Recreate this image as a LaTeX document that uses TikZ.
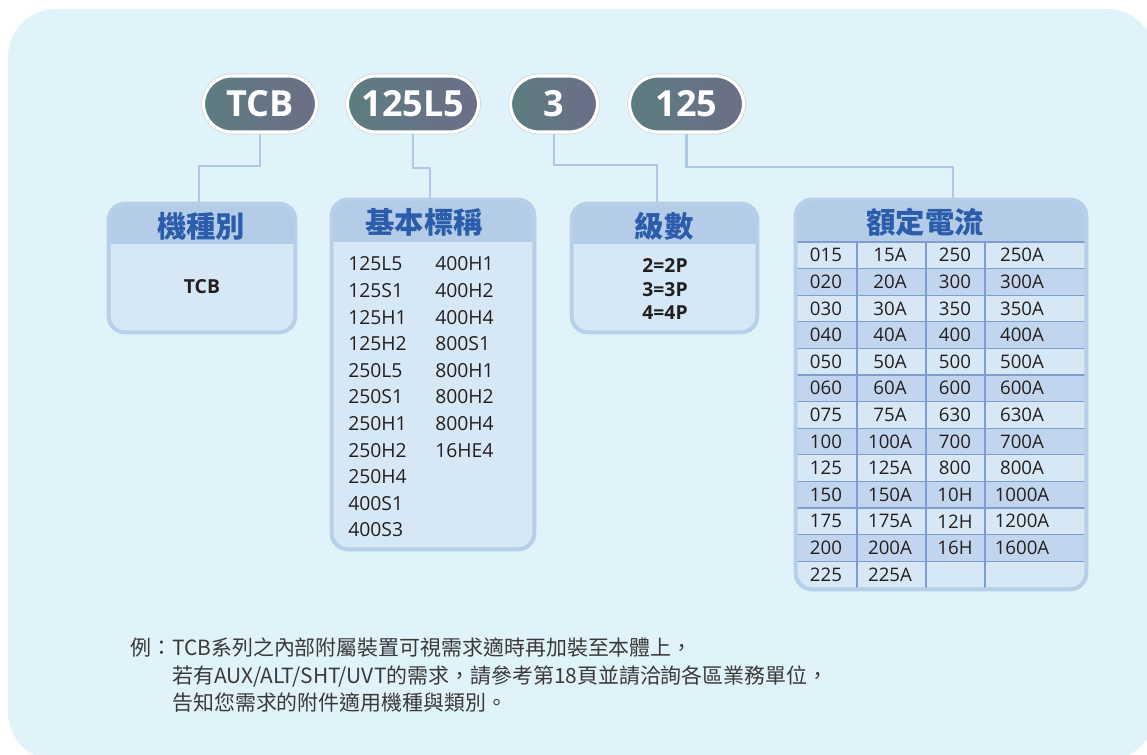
\documentclass[tikz,border=0pt]{standalone}
\usepackage{fontspec}
\setmainfont{Open Sans}
\newfontfamily\cjk{Noto Sans CJK TC}
\usetikzlibrary{calc}
\definecolor{bg}{HTML}{E0F2FA}
\definecolor{conncol}{HTML}{B0C8E8}
\definecolor{bordcol}{HTML}{B8CFEA}
\definecolor{hdrcol}{HTML}{B4CCE7}
\definecolor{bodycol}{HTML}{D6E8F6}
\definecolor{rowdark}{HTML}{C1D6EE}
\definecolor{gridcol}{HTML}{7E9DD5}
\definecolor{hdrtext}{HTML}{2C5DAA}
\definecolor{txt}{HTML}{231F20}
\definecolor{note}{HTML}{3A3A3A}
\definecolor{pillL}{HTML}{5C7D80}
\definecolor{pillM}{HTML}{7A7D8F}
\definecolor{pillR}{HTML}{6C6E87}
\begin{document}
\begin{tikzpicture}[x=0.75pt,y=-0.75pt,
  pill/.style={rectangle, rounded corners=21pt, minimum height=42pt, inner sep=0pt,
    left color=pillL, middle color=pillM, right color=pillR,
    draw=white, line width=2.4pt, preaction={draw=black!18, line width=3.4pt},
    text=white, font=\bfseries\fontsize{27}{30}\selectfont},
  boxbody/.style={rectangle, inner sep=0pt, fill=bodycol, rounded corners=12pt},
  bord/.style={draw=bordcol, line width=3pt, rounded corners=12pt},
  conn/.style={draw=conncol, line width=2.2pt},
  hdrlabel/.style={inner sep=0pt, text=hdrtext, font=\cjk\bfseries\fontsize{22}{24}\selectfont},
  item/.style={inner sep=0pt, anchor=west, text=txt, font=\fontsize{14.5}{16}\selectfont},
  bolditem/.style={inner sep=0pt, text=txt, font=\bfseries\fontsize{14.5}{16}\selectfont},
  cell/.style={inner sep=0pt, text=txt, font=\fontsize{14}{16}\selectfont},
  gridline/.style={draw=gridcol, line width=0.9pt},
  notetext/.style={inner sep=0pt, anchor=west, text=note, font=\cjk\fontsize{15.7}{18}\selectfont}
]
\useasboundingbox (0,0) rectangle (1147,755);
% background panel
\begin{scope}
  \clip (0,0) rectangle (1147,755);
  \fill[bg, rounded corners=36pt] (8,9) rectangle (1155,760);
\end{scope}

% boxes (bodies first)
\node[boxbody, minimum width=139.5pt, minimum height=96pt] (b1) at (202,268) {};
\node[boxbody, minimum width=151.5pt, minimum height=261.75pt] (b2) at (433,374.5) {};
\node[boxbody, minimum width=138.75pt, minimum height=96pt] (b3) at (664.5,268) {};
\node[boxbody, minimum width=217.5pt, minimum height=291.75pt] (b4) at (941,394.5) {};

% connector corners
\coordinate (k1) at (199,166);
\coordinate (k2) at (430,168);
\coordinate (k3) at (657,165);
\coordinate (k4) at (953,167);

% pills
\node[pill, minimum width=84.75pt] (p1) at (260,104) {TCB};
\node[pill, minimum width=98.25pt] (p2) at (413,104) {125L5};
\node[pill, minimum width=65.25pt] (p3) at (554,104) {3};
\node[pill, minimum width=85.5pt] (p4) at (686.5,104) {125};

\draw[conn] (p1.south) |- (k1) -- (k1 |- b1.north);
\draw[conn] (p2.south) |- (k2) -- (k2 |- b2.north);
\draw[conn] (p3.south) |- (k3) -- (k3 |- b3.north);
\draw[conn] (p4.south) |- (k4) -- (k4 |- b4.north);

% header bands
\coordinate (hb1) at (0,244);
\coordinate (hb2) at (0,242);
\begin{scope}
  \clip[rounded corners=12pt] (b1.north west) rectangle (b1.south east);
  \fill[hdrcol] (b1.north west) rectangle (b1.east |- hb1);
\end{scope}
\begin{scope}
  \clip[rounded corners=12pt] (b2.north west) rectangle (b2.south east);
  \fill[hdrcol] (b2.north west) rectangle (b2.east |- hb2);
\end{scope}
\begin{scope}
  \clip[rounded corners=12pt] (b3.north west) rectangle (b3.south east);
  \fill[hdrcol] (b3.north west) rectangle (b3.east |- hb1);
\end{scope}
\begin{scope}
  \clip[rounded corners=12pt] (b4.north west) rectangle (b4.south east);
  \fill[hdrcol] (b4.north west) rectangle (b4.east |- hb2);
  % table rows
  \foreach \i in {2,4,...,12}
    \fill[rowdark] (797,{242+26.6*(\i-1)}) rectangle (1086,{242+26.6*\i});
  \foreach \i in {0,...,12}
    \draw[gridline] (797,{242+26.6*\i}) -- (1086,{242+26.6*\i});
  \foreach \xx in {857,926,985}
    \draw[gridline] (\xx,242) -- (\xx,588);
\end{scope}

% borders
\draw[bord] (b1.north west) rectangle (b1.south east);
\draw[bord] (b2.north west) rectangle (b2.south east);
\draw[bord] (b3.north west) rectangle (b3.south east);
\draw[bord] (b4.north west) rectangle (b4.south east);

% headers
\node[hdrlabel] (h1) at (201,226) {機種別};
\node[hdrlabel] (h2) at (424,222) {基本標稱};
\node[hdrlabel] (h3) at (664,226) {級數};
\node[hdrlabel] (h4) at (925,222) {額定電流};

% box 1
\node[bolditem] (tcb) at (202,287) {TCB};

% box 2 lists
\foreach \t [count=\i] in {125L5,125S1,125H1,125H2,250L5,250S1,250H1,250H2,250H4,400S1,400S3}
  \node[item] (la\i) at (348,{264+26.6*(\i-1)}) {\t};
\foreach \t [count=\i] in {400H1,400H2,400H4,800S1,800H1,800H2,800H4,16HE4}
  \node[item] (lb\i) at (435,{264+26.6*(\i-1)}) {\t};

% box 3
\node[bolditem] (pp2) at (665,266) {2=2P};
\node[bolditem] (pp3) at (665,290) {3=3P};
\node[bolditem] (pp4) at (665,313) {4=4P};

% box 4 table
\foreach \a/\b/\c/\d [count=\i] in {015/15A/250/250A,020/20A/300/300A,030/30A/350/350A,040/40A/400/400A,050/50A/500/500A,060/60A/600/600A,075/75A/630/630A,100/100A/700/700A,125/125A/800/800A,150/150A/10H/1000A,175/175A/12H/1200A,200/200A/16H/1600A}{
  \node[cell] (ta\i) at (826,{242+26.6*(\i-0.5)}) {\a};
  \node[cell] (tb\i) at (890,{242+26.6*(\i-0.5)}) {\b};
  \node[cell] (tc\i) at (955,{242+26.6*(\i-0.5)}) {\c};
  \node[cell] (td\i) at (1022,{242+26.6*(\i-0.5)}) {\d};
}
\node[cell] (ta13) at (826,{242+26.6*12.5}) {225};
\node[cell] (tb13) at (890,{242+26.6*12.5}) {225A};

% note
\node[notetext] (n1) at (130,648) {例：TCB系列之內部附屬裝置可視需求適時再加裝至本體上，};
\node[notetext] (n2) at (172,676) {若有AUX/ALT/SHT/UVT的需求，請參考第18頁並請洽詢各區業務單位，};
\node[notetext] (n3) at (172,703) {告知您需求的附件適用機種與類別。};
\end{tikzpicture}
\end{document}
